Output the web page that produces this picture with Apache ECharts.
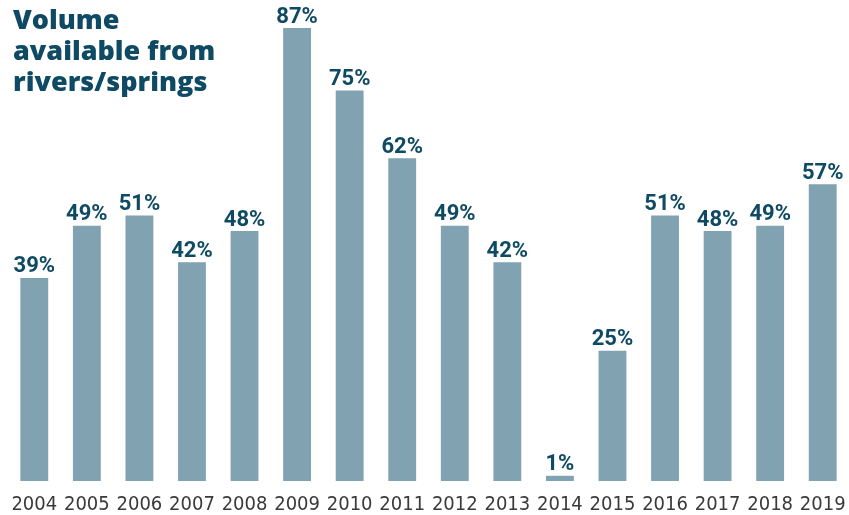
<!DOCTYPE html>
<html>
<head>
<meta charset="utf-8">
<script src="https://cdn.jsdelivr.net/npm/echarts@6/dist/echarts.min.js"></script>
<style>
html,body{margin:0;padding:0;background:#fff;}
#c{width:849px;height:515px;}
</style>
</head>
<body>
<div id="c"></div>
<script>
const titleText = "Volume\navailable from\nrivers/springs";
const years = ["2004","2005","2006","2007","2008","2009","2010","2011","2012","2013","2014","2015","2016","2017","2018","2019"];
const volumePct = [39,49,51,42,48,87,75,62,49,42,1,25,51,48,49,57];

const chart = echarts.init(document.getElementById('c'), null, {renderer:'canvas'});
chart.setOption({
  animation:false,
  backgroundColor:'#ffffff',
  title:{
    text:titleText,
    left:8, top:1,
    textStyle:{fontFamily:'"Open Sans", sans-serif', fontWeight:800, fontSize:27, lineHeight:31, color:'#0e4a63'}
  },
  grid:{left:8, width:842.4, top:28, bottom:31.5, containLabel:false},
  xAxis:{
    type:'category', data:years,
    axisLine:{show:false}, axisTick:{show:false},
    axisLabel:{fontFamily:'"DejaVu Sans Condensed", "DejaVu Sans", sans-serif', fontSize:20, color:'#3a3a3a', margin:14, interval:0}
  },
  yAxis:{type:'value', min:0, max:87, show:false, splitLine:{show:false}},
  series:[{
    type:'bar', data:volumePct, barWidth:'53%',
    itemStyle:{color:'#80a2b1'},
    label:{show:true, position:'top', distance:0, formatter:'{c}%',
      fontFamily:'Roboto', fontWeight:'bold', fontSize:22, color:'#0e4a63'}
  }]
});
</script>
</body>
</html>
